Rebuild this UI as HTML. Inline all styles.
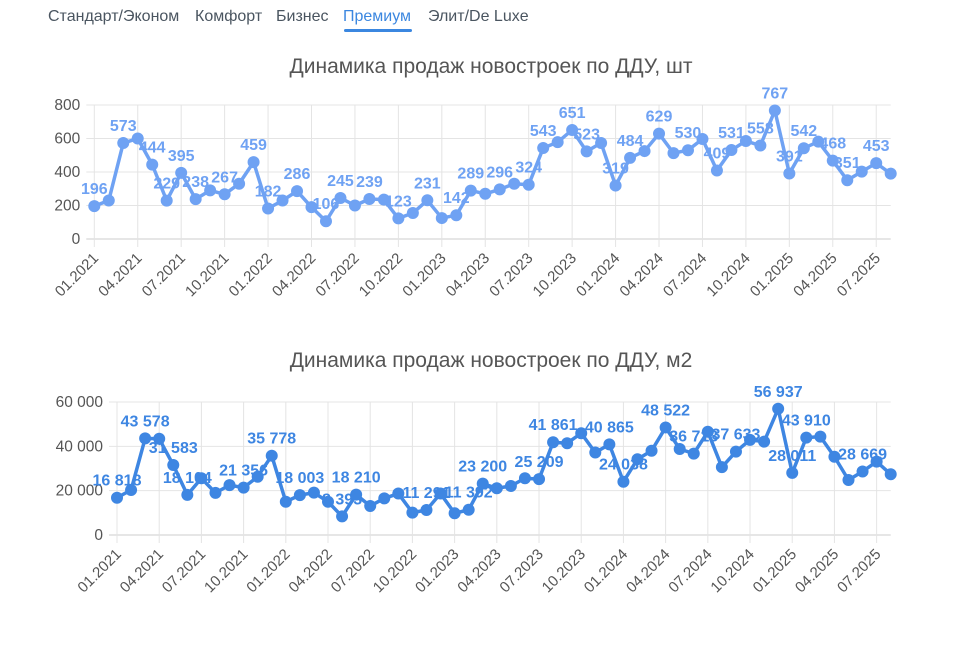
<!DOCTYPE html>
<html><head><meta charset="utf-8">
<style>
body{margin:0;width:974px;height:647px;background:#fff;overflow:hidden;font-family:"Liberation Sans",sans-serif}
.tab{position:absolute;top:8px;font-size:16px;color:#4a5560;}
.tab.active{color:#3b87e0}
#ul{position:absolute;left:344px;top:29px;width:68px;height:3px;background:#3b87e0;border-radius:2px}
svg{position:absolute;left:0;top:0}
</style></head>
<body>
<div class="tab" style="left:48px">Стандарт/Эконом</div>
<div class="tab" style="left:195px">Комфорт</div>
<div class="tab" style="left:276px">Бизнес</div>
<div class="tab active" style="left:343px">Премиум</div>
<div class="tab" style="left:428px">Элит/De Luxe</div>
<div id="ul"></div>
<svg id="svg" width="974" height="647"></svg>
<script>
const months = [];
for (let y = 2021; y <= 2025; y++) for (let m = 1; m <= 12; m++) { if (y === 2025 && m > 8) break; months.push((m < 10 ? '0' : '') + m + '.' + y); }
const unitsValues = [196,230,573,600,444,229,395,238,290,267,330,459,
 182,230,286,190,106,245,200,239,235,123,155,231,
 125,142,289,270,296,330,324,543,578,651,523,573,
 319,484,525,629,513,530,597,409,531,585,558,767,
 391,542,581,468,351,402,453,390];
const unitsLabeled = [0,2,4,5,6,7,9,11,12,14,16,17,19,21,23,25,26,28,30,31,33,34,36,37,39,41,43,44,46,47,48,49,51,52,54];
const unitsTicks = [0,200,400,600,800];
const areaValues = [16818,20300,43578,43400,31583,18104,25600,19000,22500,21356,26300,35778,
 15000,18003,19100,15000,8393,18210,13100,16500,18700,10100,11291,18700,
 9800,11392,23200,21100,22100,25600,25209,41861,41400,45900,37200,40865,
 24038,34200,38000,48522,38800,36713,46600,30600,37633,42900,42100,56937,
 28011,43910,44400,35300,24800,28669,33100,27400];
const areaLabeled = [0,2,4,5,9,11,13,16,17,22,25,26,30,31,35,36,39,41,44,47,48,49,53];
const areaTicks = [0,20000,40000,60000];

const svg = document.getElementById('svg');
const NS = 'http://www.w3.org/2000/svg';
function el(tag, attrs, parent) { const e = document.createElementNS(NS, tag); for (const k in attrs) e.setAttribute(k, attrs[k]); (parent || svg).appendChild(e); return e; }
function fmt(v){ return String(v).replace(/\B(?=(\d{3})+(?!\d))/g,' '); }

function chart(o) {
  const g = el('g', {});
  
  
  const n = o.values.length;
  const xs = i => o.x0 + (o.x1 - o.x0) * i / (n - 1);
  const ys = v => o.yb - (o.yb - o.yt) * v / o.max;
  const t = el('text', {x: 491, y: o.titleY, 'text-anchor': 'middle', 'font-size': 21, fill: '#555'}, g);
  t.textContent = o.title;
  
  
  o.ticks.forEach(v => {
    const y = ys(v);
    el('line', {x1: o.x0 - 8, x2: o.x1, y1: y, y2: y, stroke: v === 0 ? '#ccc' : '#e4e4e4', 'stroke-width': 1}, g);
    const tl = el('text', {x: o.x0 - 14, y: y + 5, 'text-anchor': 'end', 'font-size': 15.5, fill: '#555'}, g);
    tl.textContent = fmt(v);
    
    
  });
  for (let i = 0; i < n; i += 3) {
    const x = xs(i);
    el('line', {x1: x, x2: x, y1: o.yt, y2: o.yb + 8, stroke: '#e4e4e4', 'stroke-width': 1}, g);
    const tx = el('text', {x: x + 5, y: o.yb + 20, 'text-anchor': 'end', 'font-size': 15, fill: '#555', transform: `rotate(-45 ${x + 5} ${o.yb + 20})`}, g);
    tx.textContent = months[i];
    
    
  }
  const pts = o.values.map((v, i) => xs(i) + ',' + ys(v)).join(' ');
  const line = el('polyline', {points: pts, fill: 'none', stroke: o.color, 'stroke-width': 3.5, 'stroke-linejoin': 'round'}, g);
  
  
  o.values.forEach((v, i) => {
    const c = el('circle', {cx: xs(i), cy: ys(v), r: 6, fill: o.color}, g);
    
    
  });
  o.labeled.forEach(i => {
    const lb = el('text', {x: xs(i), y: ys(o.values[i]) - 12, 'text-anchor': 'middle', 'font-size': 16, 'font-weight': 'bold', fill: o.color}, g);
    lb.textContent = fmt(o.values[i]);
    
    
  });
}
chart({name: 'units-chart', title: 'Динамика продаж новостроек по ДДУ, шт', titleY: 73, values: unitsValues, labeled: unitsLabeled, ticks: unitsTicks, max: 800, x0: 94.3, x1: 890.7, yt: 105, yb: 239, color: '#6fa2f3'});
chart({name: 'area-chart', title: 'Динамика продаж новостроек по ДДУ, м2', titleY: 367, values: areaValues, labeled: areaLabeled, ticks: areaTicks, max: 60000, x0: 117, x1: 890.7, yt: 402, yb: 535, color: '#3e86e2'});
</script>
</body></html>
